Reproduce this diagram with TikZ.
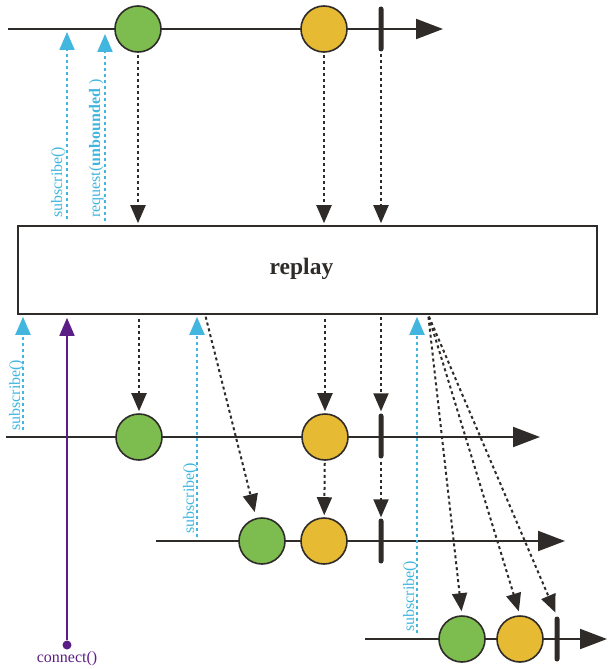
\documentclass[tikz,border=0pt]{standalone}
\usepackage{fontspec}
\setmainfont{Liberation Serif}
\usetikzlibrary{arrows.meta, positioning, calc}
\definecolor{ink}{RGB}{46,43,40}
\definecolor{marblegreen}{RGB}{125,189,80}
\definecolor{marbleyellow}{RGB}{230,186,50}
\definecolor{askblue}{RGB}{66,182,222}
\definecolor{connpurple}{RGB}{91,30,134}

\begin{document}
\begin{tikzpicture}[x=1pt, y=-1pt, font=\fontsize{16}{18}\selectfont,
	lane/.style={ink, line width=2pt, -{Triangle[length=27pt, width=20pt]}},
	marble/.style={circle, draw=ink, line width=1.6pt, minimum size=46pt, inner sep=0pt},
	donebar/.style={rectangle, fill=ink, minimum width=5pt, minimum height=45pt, inner sep=0pt, rounded corners=2.5pt},
	emit/.style={ink, line width=2pt, dash pattern=on 3pt off 3pt, shorten >=2pt, -{Triangle[length=18pt, width=15pt]}},
	ask/.style={askblue, line width=2pt, dash pattern=on 3pt off 3pt, -{Triangle[length=18pt, width=15pt]}},
	asklabel/.style={askblue, rotate=90, anchor=base west, inner sep=0pt}]
	\useasboundingbox (0,0) rectangle (613,669);
	% lineas de tiempo
	\foreach \xs/\xe/\y in {8/443/29, 6/540/437, 156/565/541, 365/607/639}
		\draw[lane] (\xs,\y) -- (\xe,\y);
	% operador
	\node[draw=ink, line width=1.6pt, minimum width=579pt, minimum height=88pt] (box) at (307.5,270) {};
	\node[text=ink, font=\fontsize{23.5}{26}\selectfont\bfseries] (boxname) at ($(box)+(-6,-1)$) {replay};
	% eventos (fuente y suscriptores 1..3)
	\node[marble, fill=marblegreen] (g1) at (138,29) {};
	\node[marble, fill=marbleyellow] (y1) at (324,29) {};
	\node[donebar] (c1) at (381,29) {};
	\node[marble, fill=marblegreen] (g2) at (139,437) {};
	\node[marble, fill=marbleyellow] (y2) at (325,437) {};
	\node[donebar] (c2) at (381,436) {};
	\node[marble, fill=marblegreen] (g3) at (262,541) {};
	\node[marble, fill=marbleyellow] (y3) at (324,541) {};
	\node[donebar] (c3) at (381,541) {};
	\node[marble, fill=marblegreen] (g4) at (462,639) {};
	\node[marble, fill=marbleyellow] (y4) at (520,639) {};
	\node[donebar] (c4) at (557,639) {};
	% emisiones hacia replay
	\draw[emit, shorten <=2pt] (g1) -- (g1 |- box.north);
	\draw[emit, shorten <=2pt] (y1) -- (y1 |- box.north);
	\draw[emit, shorten <=2pt] (c1.south) -- (c1 |- box.north);
	% emisiones desde replay
	\draw[emit, shorten <=4pt] (g2 |- box.south) -- (g2);
	\draw[emit, shorten <=4pt] (y2 |- box.south) -- (y2);
	\draw[emit, shorten <=2pt] (c2 |- box.south) -- (c2.north);
	\coordinate (late1) at ($(box.south west)+(188,0)$);
	\draw[emit, shorten <=2pt, shorten >=6pt] (late1) -- (g3);
	\draw[emit, shorten <=2pt] (y2) -- (y3);
	\draw[emit, shorten <=3pt, shorten >=1pt] (c2.south) -- (c3.north);
	\coordinate (late2) at ($(box.south west)+(411,0)$);
	\foreach \t in {g4, y4, c4}
		\draw[emit, shorten <=2pt, shorten >=4pt] (late2) -- (\t.north);
	% suscripciones
	\coordinate (sub0) at (67,29);
	\coordinate (req0) at (105,29);
	\coordinate (sub1) at (23,437);
	\coordinate (sub2) at (197,541);
	\coordinate (sub3) at (417,639);
	\draw[ask, shorten <=6pt, shorten >=3pt] (sub0 |- box.north) -- (sub0);
	\draw[ask, shorten <=4pt, shorten >=5pt] (req0 |- box.north) -- (req0);
	\foreach \s/\d in {sub1/7, sub2/4, sub3/6}
		\draw[ask, shorten <=\d pt, shorten >=2pt] (\s) -- (\s |- box.south);
	\node[asklabel] (lsub0) at (62,218) {subscribe()};
	\node[asklabel] (lreq0) at (100,218) {request(\textbf{unbounded} )};
	\node[asklabel] (lsub1) at (20,431) {subscribe()};
	\node[asklabel] (lsub2) at (194,534) {subscribe()};
	\node[asklabel] (lsub3) at (414,632) {subscribe()};
	% connect
	\node[circle, fill=connpurple, inner sep=0pt, minimum size=9pt] (conn) at (67,645) {};
	\draw[connpurple, line width=1.6pt, shorten >=3pt, -{Triangle[length=18pt, width=15pt]}] (conn) -- (conn |- box.south);
	\node[connpurple, inner sep=0pt, below=1pt of conn] (lconn) {connect()};
\end{tikzpicture}
\end{document}
